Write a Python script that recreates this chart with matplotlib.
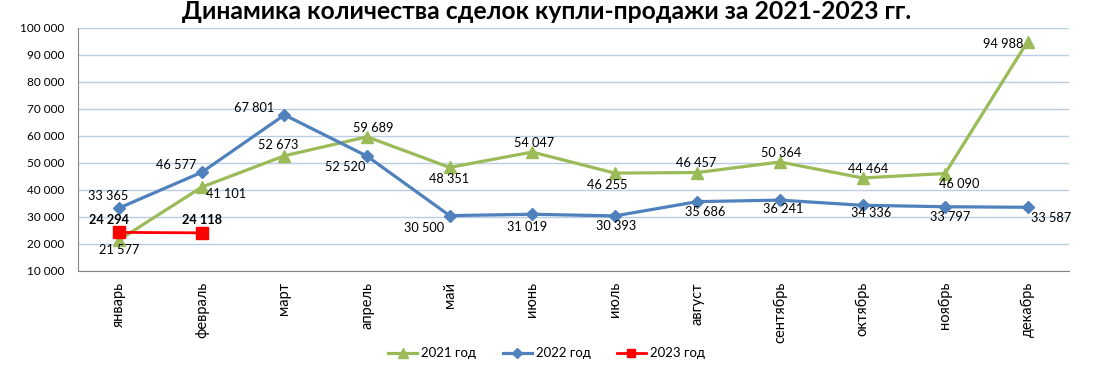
import numpy as np
import matplotlib
matplotlib.use("Agg")
import matplotlib.pyplot as plt

plt.rcParams['font.family'] = ['Lato', 'DejaVu Sans']

months = ['январь', 'февраль', 'март', 'апрель', 'май', 'июнь',
          'июль', 'август', 'сентябрь', 'октябрь', 'ноябрь', 'декабрь']
y2021 = [21577, 41101, 52673, 59689, 48351, 54047,
         46255, 46457, 50364, 44464, 46090, 94988]
y2022 = [33365, 46577, 67801, 52520, 30500, 31019,
         30393, 35686, 36241, 34336, 33797, 33587]
y2023 = [24294, 24118]

# label offsets in pixels (dx, dy)
off2021 = [(0, -10), (24, -7), (-6, 11), (6, 9), (-1, -12), (2, 9),
           (-8, -12), (-1, 10), (1, 9), (6, 9), (14, -10), (-24, -2)]
off2022 = [(-11, 12), (-26, 7), (-30, 7), (-22, -11), (-26, -12), (-5, -13),
           (1, -10), (8, -10), (3, -9), (9, -8), (5, -10), (23, -11)]
off2023 = [(-10, 12), (0, 13)]

green = '#9BBB59'
blue = '#4F81BD'
red = '#FF0000'

fig = plt.figure(figsize=(10.93, 3.73), dpi=100)
ax = fig.add_axes([0.0714, 0.2735, 0.9066, 0.6515])

x = np.arange(len(months))
ax.plot(x, y2021, color=green, lw=2.3, marker='^', ms=9, label='2021 год', zorder=3)
ax.plot(x, y2022, color=blue, lw=2.3, marker='D', ms=6.5, label='2022 год', zorder=4)
ax.plot(x[:len(y2023)], y2023, color=red, lw=2.0, marker='s', ms=8, label='2023 год', zorder=5)

def fmt(v):
    return f"{v:,}".replace(',', ' ')

for series, offs, bold in [(y2021, off2021, False), (y2022, off2022, False), (y2023, off2023, True)]:
    for i, v in enumerate(series):
        ax.annotate(fmt(v), (i, v), xytext=offs[i], textcoords='offset pixels',
                    ha='center', va='center', fontsize=9.2,
                    fontweight='bold' if bold else 'normal', zorder=6)

ax.set_xlim(-0.5, len(months) - 0.5)
ax.set_ylim(10000, 100000)
ax.set_yticks(np.arange(10000, 100001, 10000))
ax.set_yticklabels([fmt(v) for v in range(10000, 100001, 10000)], fontsize=8.5)
ax.set_xticks(x)
ax.set_xticklabels(months, rotation=90, fontsize=10.5)
ax.tick_params(axis='both', length=0, pad=8)
ax.tick_params(axis='y', pad=10)

ax.grid(axis='y', color='#B9CDE5', lw=1)
ax.set_axisbelow(True)
for s in ['top', 'right']:
    ax.spines[s].set_visible(False)
ax.spines['left'].set_color('#868686')
ax.spines['bottom'].set_color('#868686')

fig.suptitle('Динамика количества сделок купли-продажи за 2021-2023 гг.',
             fontsize=17.8, fontweight='bold', y=1.0)

fig.legend(loc='center', bbox_to_anchor=(0.5, 0.053), ncol=3, frameon=False,
           fontsize=9.5, handlelength=2.2, columnspacing=2.0, handletextpad=0.3,
           markerscale=0.8)

fig.savefig('out.png', dpi=100)
plt.close()
